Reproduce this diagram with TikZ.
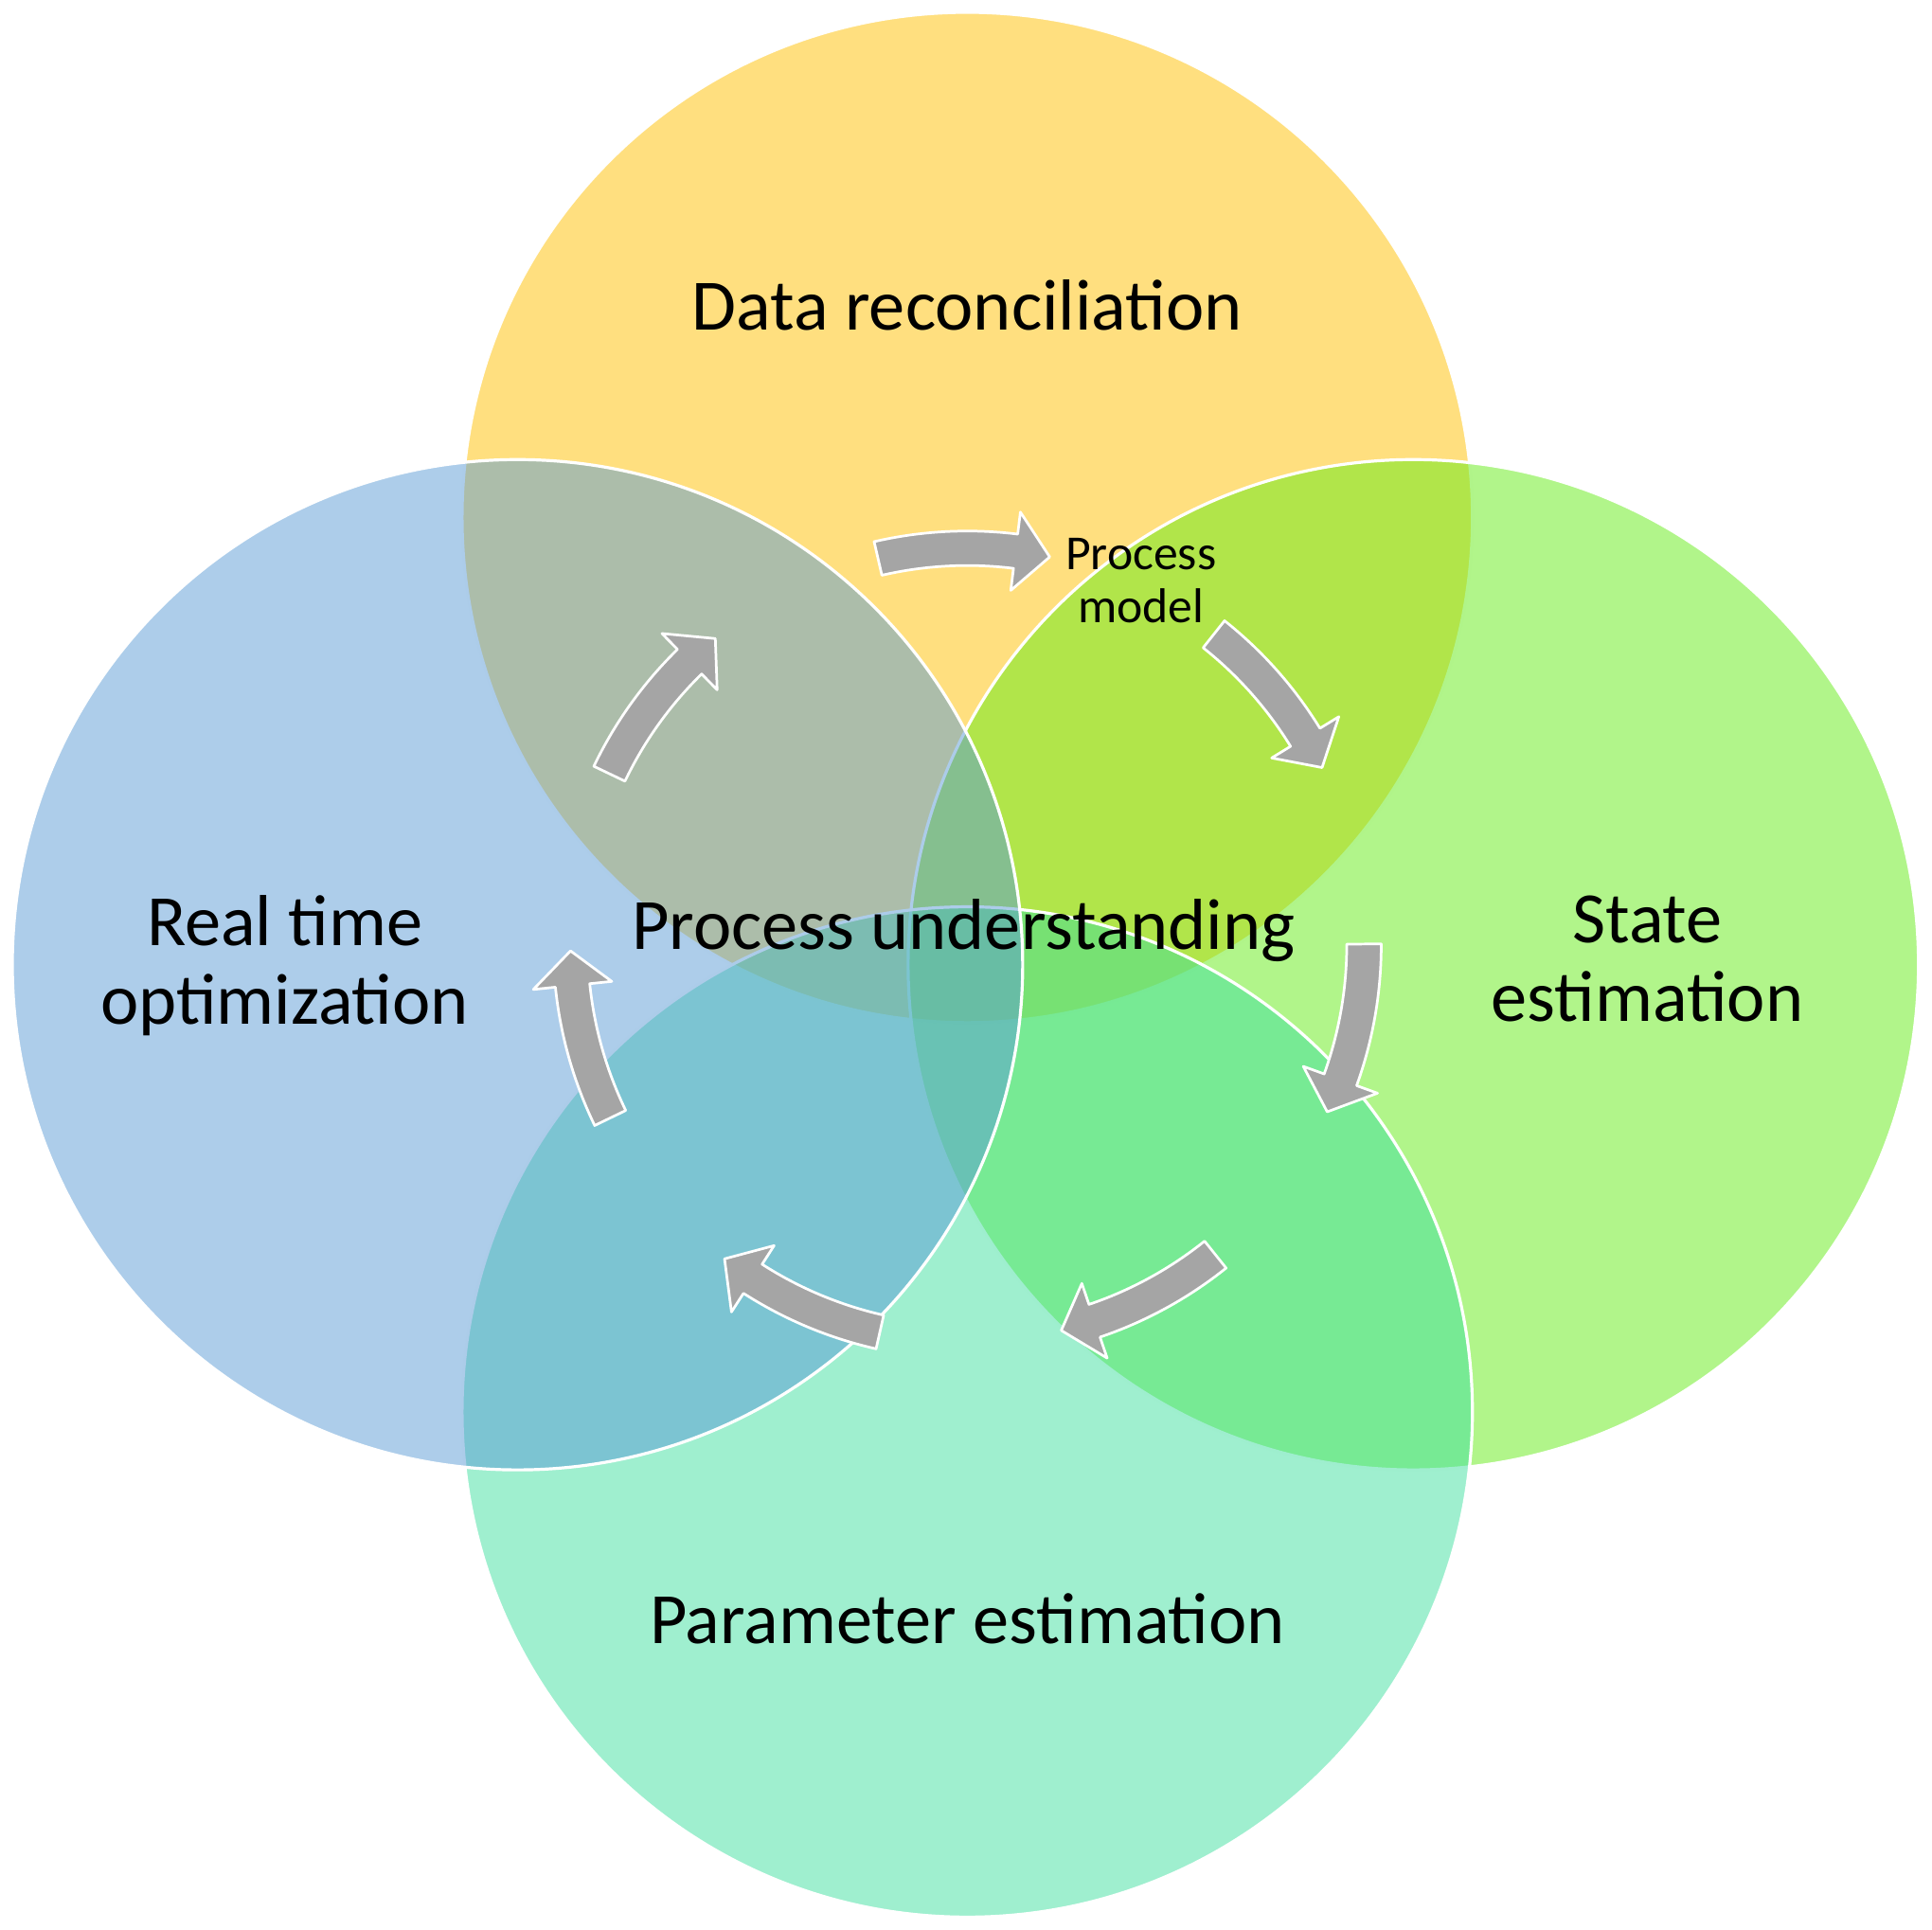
\documentclass[tikz,border=0pt]{standalone}
\usepackage{fontspec}
\setmainfont{Carlito}
\definecolor{drYellow}{HTML}{FFC000}
\definecolor{rtoBlue}{HTML}{5B9BD5}
\definecolor{seGreen}{HTML}{63EB15}
\definecolor{peMint}{HTML}{3FDF9F}
\definecolor{arrowGray}{HTML}{A5A5A5}
\tikzset{
  venn/.style={draw=white, line width=0.7pt, fill opacity=0.5},
  cyclearrow/.style={fill=arrowGray, draw=white, line width=0.6pt, line join=round},
  bigtext/.style={font=\fontsize{16.7}{18.2}\selectfont, align=center, inner sep=0pt},
  smalltext/.style={font=\fontsize{11.3}{12.2}\selectfont, align=center, inner sep=0pt}
}
\begin{document}
\begin{tikzpicture}
  \useasboundingbox (0,0) rectangle (15.68,15.66);
  % circles (yellow, green, mint, then blue on top)
  \draw[venn, fill=drYellow] (7.85,11.46) circle (4.10);
  \draw[venn, fill=seGreen] (11.47,7.83) circle (4.10);
  \draw[venn, fill=peMint] (7.85,4.20) circle (4.10);
  \draw[venn, fill=rtoBlue] (4.20,7.83) circle (4.10);
  % the cycle of arrows
  \foreach \k in {0,...,6}
  {\pgfmathsetmacro{\a}{103-51.43*\k}
   \pgfmathsetmacro{\b}{\a-20}
   \pgfmathsetmacro{\c}{\a-25}
   \draw[cyclearrow, shift={(7.85,7.99)}] (\a:3.08) arc[start angle=\a, end angle=\b, radius=3.08]
     -- (\b:2.90) -- (\c:3.22) -- (\b:3.54) -- (\b:3.36)
     arc[start angle=\b, end angle=\a, radius=3.36] -- cycle;}
  \node[bigtext] (dr) at (7.85,13.18) {Data reconciliation};
  \node[smalltext] (pm) at (9.26,10.95) {Process\\model};
  \node[bigtext] (rto) at (2.31,7.82) {Real time\\optimization};
  \node[bigtext] (pu) at (7.82,8.11) {Process understanding};
  \node[bigtext] (se) at (13.37,7.88) {State\\estimation};
  \node[bigtext] (pe) at (7.85,2.52) {Parameter estimation};
\end{tikzpicture}
\end{document}
